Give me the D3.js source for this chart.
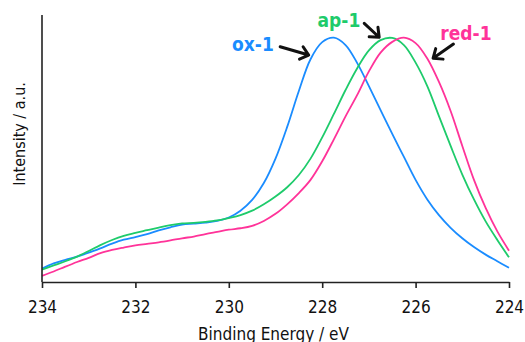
<!DOCTYPE html>
<html>
<head>
<meta charset="utf-8">
<script src="https://cdn.jsdelivr.net/npm/d3@7"></script>
<style>
  body { margin: 0; background: #fff; }
  svg { display: block; }
  text { font-family: "DejaVu Sans Condensed", "DejaVu Sans", sans-serif; font-stretch: condensed; }
  .axis path, .axis line { stroke: #222; stroke-width: 1.6; }
  .axis text { font-size: 17px; fill: #111; }
</style>
</head>
<body>
<svg id="chart"></svg>
<script>
// binding energy grid (eV), 234 -> 224 in 0.25 steps
const energies = [
  234, 233.75, 233.5, 233.25, 233, 232.75, 232.5, 232.25, 232, 231.75,
  231.5, 231.25, 231, 230.75, 230.5, 230.25, 230, 229.75, 229.5, 229.25,
  229, 228.75, 228.5, 228.25, 228, 227.75, 227.5, 227.25, 227, 226.75,
  226.5, 226.25, 226, 225.75, 225.5, 225.25, 225, 224.75, 224.5, 224.25, 224
];

// normalised intensities
const ox1 = [
  0.055, 0.076, 0.091, 0.104, 0.120, 0.138, 0.157, 0.173, 0.184, 0.196,
  0.211, 0.224, 0.235, 0.239, 0.243, 0.250, 0.264, 0.292, 0.336, 0.405,
  0.505, 0.635, 0.782, 0.912, 0.982, 1.000, 0.970, 0.896, 0.802, 0.704,
  0.606, 0.512, 0.418, 0.338, 0.274, 0.222, 0.179, 0.143, 0.112, 0.085, 0.058
];
const ap1 = [
  0.051, 0.068, 0.085, 0.104, 0.127, 0.151, 0.172, 0.189, 0.201, 0.212,
  0.223, 0.233, 0.240, 0.242, 0.246, 0.252, 0.262, 0.274, 0.292, 0.318,
  0.350, 0.388, 0.438, 0.505, 0.592, 0.688, 0.786, 0.875, 0.948, 0.990,
  0.999, 0.970, 0.898, 0.802, 0.679, 0.557, 0.440, 0.338, 0.248, 0.172, 0.101
];
const red1 = [
  0.025, 0.043, 0.063, 0.082, 0.099, 0.118, 0.131, 0.141, 0.150, 0.156,
  0.162, 0.170, 0.179, 0.186, 0.196, 0.205, 0.214, 0.220, 0.230, 0.250,
  0.279, 0.318, 0.364, 0.418, 0.494, 0.584, 0.678, 0.766, 0.862, 0.939,
  0.983, 1.000, 0.978, 0.915, 0.819, 0.700, 0.557, 0.418, 0.303, 0.207, 0.128
];

const xTicks = [234, 232, 230, 228, 226, 224];

const seriesNames = ["ox-1", "ap-1", "red-1"];
const seriesColors = ["#1a8cff", "#1ecb6b", "#ff3399"];

// label anchors (energy, intensity) and arrows [from, to]
const labelPos = [[229.93, 0.946], [228.10, 1.042], [225.47, 0.991]];
const arrowFrom = [[228.90, 0.963], [227.10, 1.059], [225.19, 0.974]];
const arrowTo = [[228.29, 0.929], [226.78, 1.002], [225.625, 0.916]];

const W = 525, H = 342;
const margin = {top: 15, right: 16, bottom: 60, left: 42};
const width = W - margin.left - margin.right,
      height = H - margin.top - margin.bottom;

const svg = d3.select("#chart").attr("width", W).attr("height", H);
const g = svg.append("g").attr("transform", `translate(${margin.left},${margin.top})`);

const x = d3.scaleLinear().domain([234, 224]).range([0, width]);
const y = d3.scaleLinear().domain([0, 1.093]).range([height, 0]);

const line = d3.line()
  .x(d => x(d[0]))
  .y(d => y(d[1]))
  .curve(d3.curveCatmullRom.alpha(0.5));

[ox1, ap1, red1].forEach((vals, i) => {
  g.append("path")
    .datum(energies.map((e, j) => [e, vals[j]]))
    .attr("fill", "none")
    .attr("stroke", seriesColors[i])
    .attr("stroke-width", 1.8)
    .attr("d", line);
});

// axes
const xAxis = g.append("g")
  .attr("class", "axis")
  .attr("transform", `translate(0,${height})`)
  .call(d3.axisBottom(x).tickValues(xTicks).tickSize(6).tickSizeOuter(0).tickFormat(d3.format("d")));
xAxis.selectAll("text").attr("y", 30.5).attr("dy", 0);

g.append("line")
  .attr("x1", 0).attr("x2", 0)
  .attr("y1", 0).attr("y2", height)
  .attr("stroke", "#222").attr("stroke-width", 1.6);

svg.append("text")
  .attr("x", margin.left + width / 2 - 2)
  .attr("y", 339.5)
  .attr("text-anchor", "middle")
  .style("font-size", "17px")
  .attr("fill", "#111")
  .text("Binding Energy / eV");

svg.append("text")
  .attr("transform", `translate(25,${134}) rotate(-90)`)
  .attr("text-anchor", "middle")
  .style("font-size", "16px")
  .attr("fill", "#111")
  .text("Intensity / a.u.");

// labels and arrows
seriesNames.forEach((name, i) => {
  g.append("text")
    .attr("x", x(labelPos[i][0]))
    .attr("y", y(labelPos[i][1]))
    .attr("fill", seriesColors[i])
    .style("font-size", "19px")
    .style("font-weight", "bold")
    .text(name);

  const x1 = x(arrowFrom[i][0]), y1 = y(arrowFrom[i][1]);
  const x2 = x(arrowTo[i][0]), y2 = y(arrowTo[i][1]);
  const ang = Math.atan2(y2 - y1, x2 - x1);
  const len = 10, spread = Math.PI / 4.5;
  const head = [ang + Math.PI - spread, ang + Math.PI + spread]
    .map(a => [x2 + len * Math.cos(a), y2 + len * Math.sin(a)]);

  g.append("path")
    .attr("d", `M${x1},${y1}L${x2},${y2}M${head[0][0]},${head[0][1]}L${x2},${y2}L${head[1][0]},${head[1][1]}`)
    .attr("fill", "none")
    .attr("stroke", "#111")
    .attr("stroke-width", 3)
    .attr("stroke-linecap", "round")
    .attr("stroke-linejoin", "round");
});
</script>
</body>
</html>
